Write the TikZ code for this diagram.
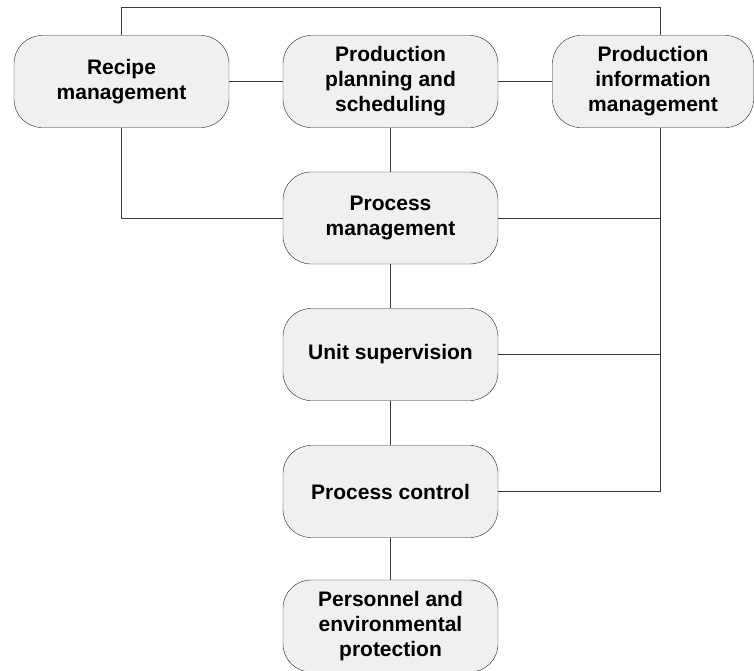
\documentclass[tikz,border=0pt]{standalone}
\usepackage{fontspec}
\setmainfont{Liberation Sans}
\usetikzlibrary{calc}

\definecolor{boxfill}{HTML}{F0F0F0}
\definecolor{boxline}{HTML}{222222}
\definecolor{wire}{HTML}{3A3A3A}

\begin{document}
\begin{tikzpicture}[x=1pt,y=-1pt,             % pixel like units
                    box/.style={draw=boxline,fill=boxfill,rounded corners=28pt,
                                minimum width=215pt,minimum height=92pt,
                                align=center,inner sep=0pt,
                                font=\bfseries\fontsize{21}{25}\selectfont},
                    wire/.style={draw=wire,line width=1pt}
                    ]

\useasboundingbox (0,0) rectangle (754,670);

% top row
\node[box] (recipe) at (121.5,81.5) {Recipe\\management};
\node[box] (planning) at (390.5,81.5) {Production\\planning and\\scheduling};
\node[box,minimum width=201pt] (info) at (653,81.5) {Production\\information\\management};

% middle column
\node[box] (procmgmt) at (390.5,218) {Process\\management};
\node[box] (unit) at (390.5,354.5) {Unit supervision};
\node[box] (control) at (390.5,491.5) {Process control};
\node[box] (personnel) at (390.5,626) {Personnel and\\environmental\\protection};

\coordinate (bus) at (660,7);

% row links
\draw[wire] (recipe.east) -- (planning.west);
\draw[wire] (planning.east) -- (info.west);

% column links
\draw[wire] (planning.south) -- (procmgmt.north);
\draw[wire] (procmgmt.south) -- (unit.north);
\draw[wire] (unit.south) -- (control.north);
\draw[wire] (control.south) -- (personnel.north);

% recipe loops
\draw[wire] (recipe.north) |- (bus) -- (bus |- info.north);
\draw[wire] (recipe.south) |- (procmgmt.west);

% information bus
\draw[wire] (bus |- info.south) |- (control.east);
\draw[wire] (unit.east) -- (unit.east -| bus);
\draw[wire] (procmgmt.east) -- (procmgmt.east -| bus);

\end{tikzpicture}
\end{document}
